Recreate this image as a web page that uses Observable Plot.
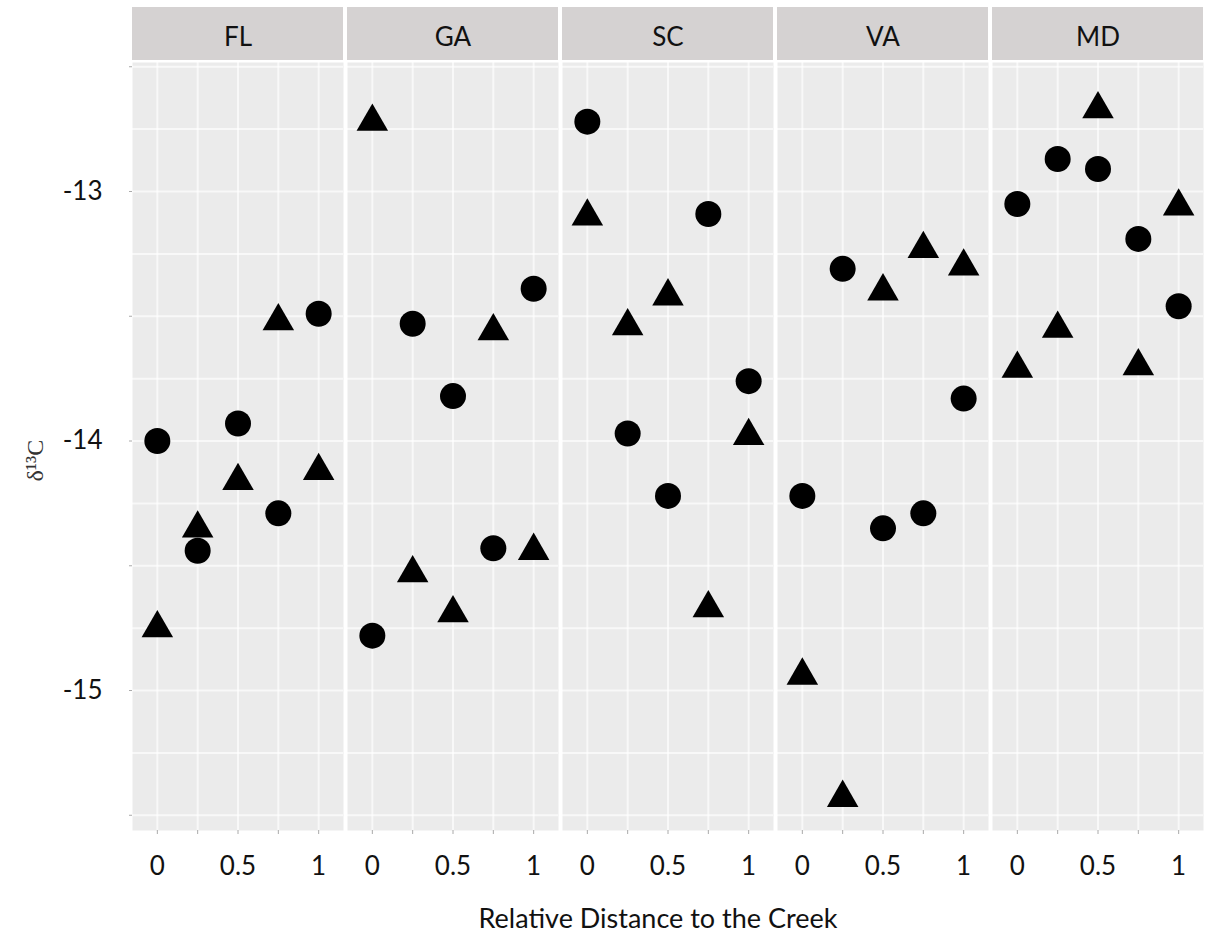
<!DOCTYPE html>
<html>
<head>
<meta charset="utf-8">
<script src="https://cdn.jsdelivr.net/npm/d3@7"></script>
<script src="https://cdn.jsdelivr.net/npm/@observablehq/plot@0.6"></script>
<style>
  body { margin: 0; background: #fff; }
  #chart { width: 1206px; }
  .xtitle {
    font-family: Lato, "Open Sans", sans-serif;
    font-size: 27px;
    color: #111;
    width: 1206px;
    height: 46px;
    line-height: 56px;
    padding-left: 110px;
    box-sizing: border-box;
    text-align: center;
  }
</style>
</head>
<body>
<div id="chart"></div>
<div class="xtitle">Relative Distance to the Creek</div>
<script>
// ---- data ----
const states = ["FL", "GA", "SC", "VA", "MD"];
const distances = [0, 0.25, 0.5, 0.75, 1];
const xTickLabels = [0, 0.5, 1];
const yTickLabels = [-15, -14, -13];
const yTitle = ["δ¹³C"];

// circle series (values at distances 0, 0.25, 0.5, 0.75, 1)
const circleFL = [-14.00, -14.44, -13.93, -14.29, -13.49];
const circleGA = [-14.78, -13.53, -13.82, -14.43, -13.39];
const circleSC = [-12.72, -13.97, -14.22, -13.09, -13.76];
const circleVA = [-14.22, -13.31, -14.35, -14.29, -13.83];
const circleMD = [-13.05, -12.87, -12.91, -13.19, -13.46];

// triangle series
const triangleFL = [-14.75, -14.35, -14.16, -13.52, -14.12];
const triangleGA = [-12.72, -14.53, -14.69, -13.56, -14.44];
const triangleSC = [-13.10, -13.54, -13.42, -14.67, -13.98];
const triangleVA = [-14.94, -15.43, -13.40, -13.23, -13.30];
const triangleMD = [-13.71, -13.55, -12.67, -13.70, -13.06];

const circleSeries = [circleFL, circleGA, circleSC, circleVA, circleMD];
const triangleSeries = [triangleFL, triangleGA, triangleSC, triangleVA, triangleMD];

function toRows(series) {
  const rows = [];
  series.forEach((vals, i) => vals.forEach((v, j) => rows.push({state: states[i], distance: distances[j], value: v})));
  return rows;
}
const circles = toRows(circleSeries);
const triangles = toRows(triangleSeries);

// ---- layout ----
const W = 1206, H = 890;
const mTop = 62, mBottom = 60, mLeft = 130, mRight = 0;
const yDomain = [-15.561, -12.483];
const xDomain = [-0.154, 1.154];
const pxPerUnit = (H - mTop - mBottom) / (yDomain[1] - yDomain[0]);
const stripGapPx = 2, stripHeightPx = 53;
const stripY1 = yDomain[1] + stripGapPx / pxPerUnit;
const stripY2 = yDomain[1] + (stripGapPx + stripHeightPx) / pxPerUnit;
const yTicks = d3.range(-15.5, -12.49, 0.5);
const yGrid = d3.range(-15.5, -12.49, 0.25);

const chart = Plot.plot({
  width: W,
  height: H,
  marginTop: mTop,
  marginBottom: mBottom,
  marginLeft: mLeft,
  marginRight: mRight,
  style: {fontFamily: "Lato, 'Open Sans', sans-serif", background: "white", color: "#111"},
  fx: {domain: states, paddingInner: 4 / 216, paddingOuter: 0, label: null},
  x: {domain: xDomain, label: null},
  y: {domain: yDomain, label: null},
  marks: [
    Plot.frame({fill: "#ebebeb", stroke: "none"}),
    Plot.gridX({ticks: distances, stroke: "#ffffff", strokeOpacity: 0.65, strokeWidth: 2}),
    Plot.gridY({ticks: yGrid, stroke: "#ffffff", strokeOpacity: 0.65, strokeWidth: 2}),
    Plot.rect(states, {fx: d => d, x1: xDomain[0], x2: xDomain[1], y1: stripY1, y2: stripY2, fill: "#d5d2d2", clip: false}),
    Plot.axisFx({anchor: "top", tickSize: 0, tickPadding: 17, fontSize: 26, label: null, fill: "#111"}),
    Plot.axisX({ticks: distances, tickFormat: () => "", tickSize: 4, stroke: "#aaaaaa", label: null}),
    Plot.axisX({ticks: xTickLabels, tickSize: 0, tickPadding: 26, fontSize: 26, tickFormat: d => String(d), label: null, fill: "#111"}),
    Plot.axisY({ticks: yTicks, tickSize: 3, tickPadding: 27, fontSize: 26, stroke: "#aaaaaa", fill: "#111",
      tickFormat: d => yTickLabels.includes(d) ? String(d) : "", label: null}),
    Plot.text(yTitle, {frameAnchor: "left", dx: -97, dy: 35, rotate: -90, facetAnchor: "left",
      fontFamily: "'Liberation Serif', serif", fontSize: 24, fill: "#333"}),
    Plot.dot(circles, {fx: "state", x: "distance", y: "value", r: 13, symbol: "circle", fill: "black"}),
    Plot.dot(triangles, {fx: "state", x: "distance", y: "value", r: 11.7, symbol: "triangle", fill: "black"})
  ]
});
document.getElementById("chart").append(chart);
</script>
</body>
</html>
